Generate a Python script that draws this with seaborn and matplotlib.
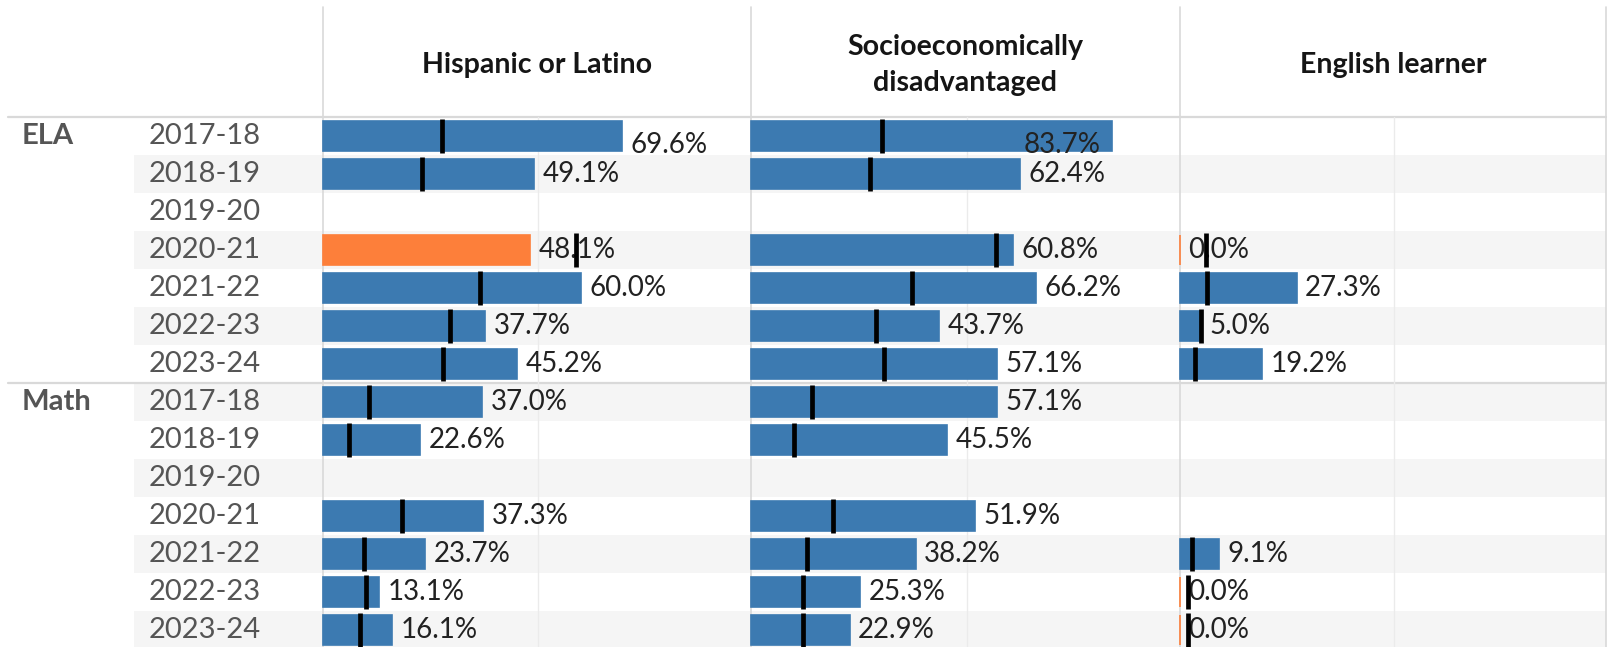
"""
Bullet-style bar grid: proficiency rate by student group, subject and year,
with the comparison rate drawn as a black tick on each bar.
"""

import numpy as np
import pandas as pd
import matplotlib
matplotlib.use("Agg")
import matplotlib.pyplot as plt
import seaborn as sns

nan = np.nan

# ── Data ────────────────────────────────────────────────────────────────────
years = ["2017-18", "2018-19", "2019-20", "2020-21", "2021-22", "2022-23", "2023-24"]
subjects = ["ELA", "Math"]
groups = ["Hispanic or Latino", "Socioeconomically\ndisadvantaged", "English learner"]

hisp_ela = [69.6, 49.1, nan, 48.1, 60.0, 37.7, 45.2]
hisp_ela_ref = [27.6, 23.0, nan, 58.8, 36.4, 29.5, 28.0]
hisp_math = [37.0, 22.6, nan, 37.3, 23.7, 13.1, 16.1]
hisp_math_ref = [10.6, 6.0, nan, 18.4, 9.6, 9.9, 8.6]

sed_ela = [83.7, 62.4, nan, 60.8, 66.2, 43.7, 57.1]
sed_ela_ref = [30.4, 27.6, nan, 56.9, 37.4, 29.0, 30.9]
sed_math = [57.1, 45.5, nan, 51.9, 38.2, 25.3, 22.9]
sed_math_ref = [14.1, 10.0, nan, 19.1, 13.1, 12.1, 12.1]

el_ela = [nan, nan, nan, 0.0, 27.3, 5.0, 19.2]
el_ela_ref = [nan, nan, nan, 6.0, 6.4, 4.9, 3.4]
el_math = [nan, nan, nan, nan, 9.1, 0.0, 0.0]
el_math_ref = [nan, nan, nan, nan, 2.9, 1.9, 1.9]

rates = {
    groups[0]: (hisp_ela, hisp_math),
    groups[1]: (sed_ela, sed_math),
    groups[2]: (el_ela, el_math),
}
refs = {
    groups[0]: (hisp_ela_ref, hisp_math_ref),
    groups[1]: (sed_ela_ref, sed_math_ref),
    groups[2]: (el_ela_ref, el_math_ref),
}

# one row per subject/year, in display order
row_keys = [f"{s} {y}" for s in subjects for y in years]

records = []
for g in groups:
    for si, s in enumerate(subjects):
        for yi, y in enumerate(years):
            records.append({
                "group": g,
                "row": f"{s} {y}",
                "value": rates[g][si][yi],
                "ref": refs[g][si][yi],
            })
df = pd.DataFrame(records)
df["status"] = np.where(df["value"] < df["ref"], "below", "above")

# ── Style / layout (pixel units of the 1614 x 647 canvas) ───────────────────
sns.set_theme(style="white")
plt.rcParams["font.family"] = ["Lato", "DejaVu Sans"]

W, H = 1614, 647
TOP, ROW_H = 117.4, 38.0
PANEL_X = [323, 751, 1180]
PANEL_W = [428, 429, 426]
RIGHT = 1606
XMAX = 99.5

BLUE = "#3c7ab1"
ORANGE = "#fd7f3a"
BAND = "#f5f5f5"
RULE = "#d9d9d9"
GREY_TXT = "#555555"
LABEL_TXT = "#222222"

fig = plt.figure(figsize=(W / 100, H / 100), dpi=100)

# background layer: bands, rules, headers and row labels
bg = fig.add_axes([0, 0, 1, 1])
bg.set_xlim(0, W)
bg.set_ylim(H, 0)
bg.axis("off")

for i in range(len(row_keys)):
    if i % 2 == 1:
        bg.fill_between([134, RIGHT], TOP + i * ROW_H, TOP + (i + 1) * ROW_H,
                        color=BAND, lw=0, zorder=0)

bg.plot([8, RIGHT], [TOP, TOP], color=RULE, lw=1.6, zorder=1)
bg.plot([8, RIGHT], [TOP + 7 * ROW_H] * 2, color=RULE, lw=1.6, zorder=1)
for x in PANEL_X + [RIGHT]:
    bg.plot([x, x], [7, H], color=RULE, lw=1.2, zorder=1)

for x0, w, g in zip(PANEL_X, PANEL_W, groups):
    bg.text(x0 + w / 2, 65, g, ha="center", va="center", fontsize=20.5,
            fontweight="bold", color="#151515", linespacing=1.5)

for i, key in enumerate(row_keys):
    yc = TOP + (i + 0.5) * ROW_H
    subj, yr = key.split(" ")
    bg.text(149, yc, yr, ha="left", va="center", fontsize=21, color=GREY_TXT)
    if yr == years[0]:
        bg.text(22, yc, subj, ha="left", va="center", fontsize=21,
                fontweight="bold", color=GREY_TXT)

# ── Panels ───────────────────────────────────────────────────────────────────
for x0, w, g in zip(PANEL_X, PANEL_W, groups):
    ax = fig.add_axes([x0 / W, 1 - (TOP + 14 * ROW_H) / H, w / W, 14 * ROW_H / H])
    ax.set_facecolor("none")
    sub = df[df["group"] == g]
    bars = sub.dropna(subset=["value"])

    ax.axvline(50, color="#ebebeb", lw=1, zorder=0)

    sns.barplot(data=bars, x="value", y="row", order=row_keys,
                hue="status", hue_order=["above", "below"],
                palette={"above": BLUE, "below": ORANGE}, saturation=1,
                dodge=False, width=0.79, errorbar=None, legend=False,
                orient="h", ax=ax, zorder=2)
    for p in ax.patches:
        p.set_edgecolor(p.get_facecolor())
        p.set_linewidth(1.2)
        p.set_clip_on(False)

    ticks = sub.dropna(subset=["ref"])
    sns.scatterplot(data=ticks, x="ref", y="row", marker="|", s=25 ** 2,
                    linewidth=3.4, color="black", legend=False, ax=ax, zorder=5)

    for _, r in bars.iterrows():
        i = row_keys.index(r["row"])
        v = r["value"]
        dy = -6 if i == 0 else 0
        if v > 80:
            ax.annotate(f"{v:.1f}%", xy=(v, i), xytext=(-8, dy),
                        textcoords="offset points", ha="right", va="center",
                        fontsize=20, color=LABEL_TXT, zorder=4)
        else:
            ax.annotate(f"{v:.1f}%", xy=(v, i), xytext=(6, dy),
                        textcoords="offset points", ha="left", va="center",
                        fontsize=20, color=LABEL_TXT, zorder=4)

    ax.set_xlim(0, XMAX)
    ax.set_ylim(len(row_keys) - 0.5, -0.5)
    ax.axis("off")

fig.savefig("out.png", dpi=100)
plt.close(fig)
